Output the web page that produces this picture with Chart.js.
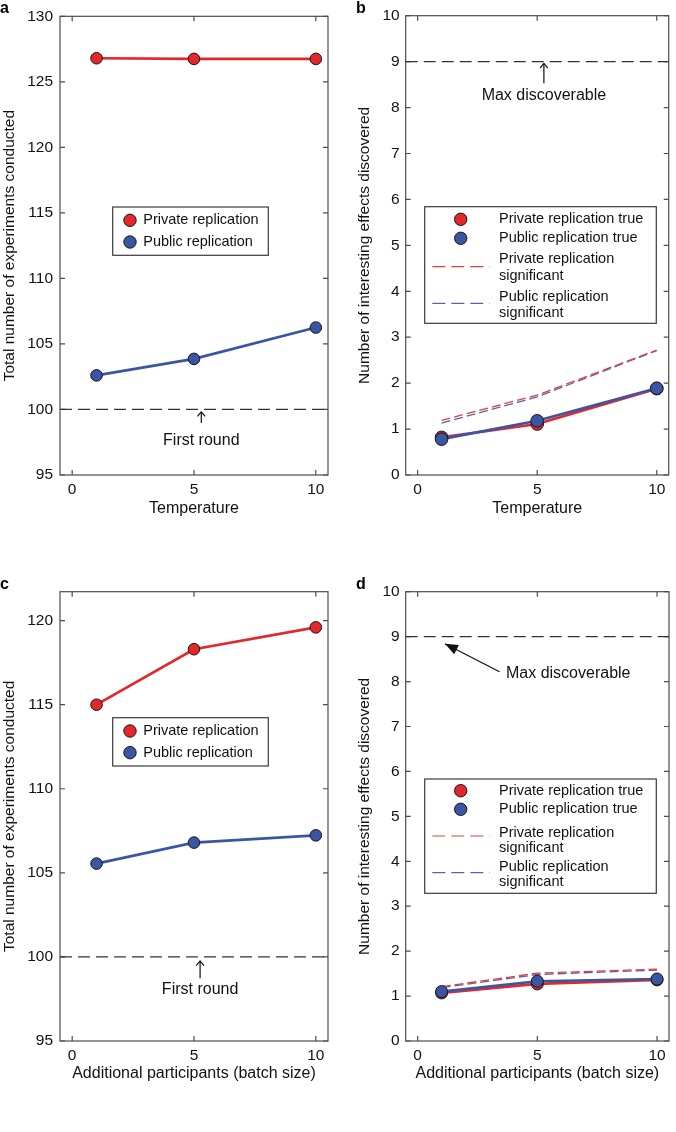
<!DOCTYPE html>
<html>
<head>
<meta charset="utf-8">
<script src="https://cdn.jsdelivr.net/npm/chart.js@4.4.1/dist/chart.umd.min.js"></script>
<style>
  body { margin: 0; background: #fff; width: 676px; height: 1132px; position: relative; overflow: hidden;
         font-family: 'Liberation Sans', Arial, sans-serif; }
  .panel { position: absolute; }
  .tag { position: absolute; font-weight: bold; font-size: 16px; line-height: 1; color: #000; }
</style>
</head>
<body>
<div class="panel" style="left:0;top:0"><canvas id="ca" width="338" height="560"></canvas></div>
<div class="panel" style="left:338px;top:0"><canvas id="cb" width="338" height="560"></canvas></div>
<div class="panel" style="left:0;top:560px"><canvas id="cc" width="338" height="572"></canvas></div>
<div class="panel" style="left:338px;top:560px"><canvas id="cd" width="338" height="572"></canvas></div>
<div class="tag" style="left:0;top:0">a</div>
<div class="tag" style="left:356px;top:0">b</div>
<div class="tag" style="left:0;top:576px">c</div>
<div class="tag" style="left:356px;top:576px">d</div>
<script>
// --- DONNEES ---
const xVals = [1, 5, 10];
const xTicks = [0, 5, 10];
const xMin = -0.5, xMax = 10.5;

// a : temperature / nb experiences
const aPrivate = [126.8, 126.75, 126.75];
const aPublic = [102.6, 103.86, 106.25];
const aYTicks = [95, 100, 105, 110, 115, 120, 125, 130];

// b : temperature / effets decouverts
const bPrivateTrue = [0.82, 1.11, 1.88];
const bPublicTrue = [0.78, 1.18, 1.89];
const bPrivateSig = [1.19, 1.74, 2.72];
const bPublicSig = [1.13, 1.70, 2.71];

// c : taille du batch / nb experiences
const cPrivate = [115.0, 118.3, 119.6];
const cPublic = [105.55, 106.8, 107.23];
const cYTicks = [95, 100, 105, 110, 115, 120];

// d : taille du batch / effets decouverts
const dPrivateTrue = [1.07, 1.27, 1.36];
const dPublicTrue = [1.10, 1.33, 1.38];
const dPrivateSig = [1.21, 1.51, 1.60];
const dPublicSig = [1.19, 1.48, 1.58];

const effectsYTicks = [0, 1, 2, 3, 4, 5, 6, 7, 8, 9, 10];
const firstRound = 100;
const maxDiscoverable = 9;

const RED = '#e2282b', BLUE = '#3b55a5';
const FONT = "'Liberation Sans', Arial, sans-serif";

// --- PLUGINS ---
// cadre facon matlab avec ticks vers l'interieur
const frame = {
  id: 'frame',
  beforeDatasetsDraw(chart) {
    const { ctx, chartArea: a, scales: { x, y } } = chart;
    ctx.save();
    ctx.strokeStyle = '#4d4d4d';
    ctx.lineWidth = 1.2;
    ctx.beginPath();
    x.ticks.forEach(t => {
      const px = x.getPixelForValue(t.value);
      ctx.moveTo(px, a.bottom); ctx.lineTo(px, a.bottom - 5);
      ctx.moveTo(px, a.top); ctx.lineTo(px, a.top + 5);
    });
    y.ticks.forEach(t => {
      const py = y.getPixelForValue(t.value);
      ctx.moveTo(a.left, py); ctx.lineTo(a.left + 5, py);
      ctx.moveTo(a.right, py); ctx.lineTo(a.right - 5, py);
    });
    ctx.stroke();
    ctx.strokeRect(a.left, a.top, a.right - a.left, a.bottom - a.top);
    ctx.restore();
  }
};

// legende encadree dans la zone du graphe
const insetLegend = {
  id: 'insetLegend',
  afterDraw(chart, args, o) {
    if (!o.rows) return;
    const { ctx, chartArea: a } = chart;
    const L = a.left + o.x, T = a.top + o.y;
    ctx.save();
    ctx.fillStyle = '#fff';
    ctx.fillRect(L, T, o.w, o.h);
    ctx.strokeStyle = '#3a3a3a';
    ctx.lineWidth = 1.2;
    ctx.strokeRect(L, T, o.w, o.h);
    o.rows.forEach(r => {
      const ds = chart.data.datasets[r.ds];
      if (r.kind === 'marker') {
        ctx.beginPath();
        ctx.arc(L + o.symX, T + r.y, 6.2, 0, Math.PI * 2);
        ctx.fillStyle = ds.pointBackgroundColor;
        ctx.fill();
        ctx.lineWidth = 1;
        ctx.strokeStyle = ds.pointBorderColor;
        ctx.stroke();
      } else {
        ctx.beginPath();
        ctx.setLineDash([13, 6]);
        ctx.strokeStyle = ds.borderColor;
        ctx.lineWidth = 1.2;
        ctx.moveTo(L + o.lineX0, T + r.symY);
        ctx.lineTo(L + o.lineX1, T + r.symY);
        ctx.stroke();
        ctx.setLineDash([]);
      }
      ctx.fillStyle = '#111';
      ctx.font = '14.5px ' + FONT;
      ctx.textBaseline = 'middle';
      ctx.textAlign = 'left';
      r.text.forEach((line, i) => ctx.fillText(line, L + o.textX, T + r.y + i * o.lh));
    });
    ctx.restore();
  }
};

// fleches + texte (First round / Max discoverable)
const notes = {
  id: 'notes',
  afterDraw(chart, args, o) {
    if (!o.items) return;
    const { ctx, scales: { x, y } } = chart;
    ctx.save();
    o.items.forEach(n => {
      const x1 = x.getPixelForValue(n.from[0]), y1 = y.getPixelForValue(n.from[1]);
      const x2 = x.getPixelForValue(n.to[0]), y2 = y.getPixelForValue(n.to[1]);
      const ang = Math.atan2(y2 - y1, x2 - x1);
      ctx.strokeStyle = '#111';
      ctx.fillStyle = '#111';
      ctx.lineWidth = 1.2;
      ctx.beginPath();
      ctx.moveTo(x1, y1); ctx.lineTo(x2, y2);
      ctx.stroke();
      const hl = n.filled ? 14 : 6, hw = n.filled ? 0.38 : 0.7;
      ctx.beginPath();
      ctx.moveTo(x2 - hl * Math.cos(ang - hw), y2 - hl * Math.sin(ang - hw));
      ctx.lineTo(x2, y2);
      ctx.lineTo(x2 - hl * Math.cos(ang + hw), y2 - hl * Math.sin(ang + hw));
      if (n.filled) { ctx.closePath(); ctx.fill(); } else ctx.stroke();
      ctx.font = '16px ' + FONT;
      ctx.textBaseline = 'middle';
      ctx.textAlign = n.align || 'center';
      ctx.fillText(n.text, x.getPixelForValue(n.at[0]), y.getPixelForValue(n.at[1]));
    });
    ctx.restore();
  }
};

Chart.register(frame, insetLegend, notes);

// --- CONSTRUCTION DES DATASETS ---
const pts = ys => xVals.map((x, i) => ({ x: x, y: ys[i] }));

function solid(label, ys, color, r, order) {
  return {
    label: label, data: pts(ys), borderColor: color, borderWidth: 2.7,
    pointBackgroundColor: color, pointBorderColor: '#1e1414', pointBorderWidth: 1,
    pointRadius: r, order: order
  };
}
function dashed(label, ys, color, order) {
  return {
    label: label, data: pts(ys), borderColor: color, borderWidth: 1.3,
    borderDash: [9, 4], pointRadius: 0, order: order
  };
}
function refLine(v) {
  return {
    label: 'ref', data: [{ x: xMin, y: v }, { x: xMax, y: v }], borderColor: '#333',
    borderWidth: 1.2, borderDash: [12, 6], pointRadius: 0, order: 9
  };
}

function makePanel(id, p) {
  new Chart(document.getElementById(id), {
    type: 'line',
    data: { datasets: p.datasets },
    options: {
      responsive: false,
      animation: false,
      layout: { padding: { left: 0, top: p.top, right: p.right, bottom: 0 } },
      plugins: {
        legend: { display: false },
        tooltip: { enabled: false },
        insetLegend: p.legend,
        notes: { items: p.notes }
      },
      scales: {
        x: {
          type: 'linear', min: xMin, max: xMax,
          afterBuildTicks: s => { s.ticks = xTicks.map(v => ({ value: v })); },
          afterFit: s => { s.height = p.xH; },
          grid: { display: false, drawTicks: false },
          border: { display: false },
          ticks: { padding: 5, color: '#111', font: { family: FONT, size: 15.5 } },
          title: { display: true, text: p.xTitle, color: '#111', font: { family: FONT, size: 16 },
                   padding: { top: 0, bottom: p.xTitlePad } }
        },
        y: {
          type: 'linear', min: p.yMin, max: p.yMax,
          afterBuildTicks: s => { s.ticks = p.yTicks.map(v => ({ value: v })); },
          afterFit: s => { s.width = p.yW; },
          grid: { display: false, drawTicks: false },
          border: { display: false },
          ticks: { padding: p.yPad, color: '#111', font: { family: FONT, size: 15.5 } },
          title: { display: true, text: p.yTitle, color: '#111', font: { family: FONT, size: 15.5 },
                   padding: { top: p.yTitlePad, bottom: 0 } }
        }
      }
    }
  });
}

const legend2 = (y) => ({
  x: 52.7, y: y, w: 155.6, h: 48.3, symX: 17.3, textX: 30.6, lh: 0,
  rows: [
    { kind: 'marker', ds: 0, y: 13.3, text: ['Private replication'] },
    { kind: 'marker', ds: 1, y: 35, text: ['Public replication'] }
  ]
});

// a
makePanel('ca', {
  top: 16, right: 10, xH: 85, yW: 60, yPad: 7, xTitlePad: 42, yTitlePad: 0,
  yMin: 95, yMax: 130, yTicks: aYTicks,
  xTitle: 'Temperature', yTitle: 'Total number of experiments conducted',
  datasets: [solid('Private replication', aPrivate, RED, 5.8, 1), solid('Public replication', aPublic, BLUE, 5.8, 0), refLine(firstRound)],
  legend: legend2(190.7),
  notes: [{ from: [5.3, 98.96], to: [5.3, 99.82], at: [5.3, 97.6], text: 'First round' }]
});

// b
makePanel('cb', {
  top: 15.7, right: 1.3, xH: 85, yW: 67.7, yPad: 6, xTitlePad: 42, yTitlePad: 17.4,
  yMin: 0, yMax: 10, yTicks: effectsYTicks,
  xTitle: 'Temperature', yTitle: 'Number of interesting effects discovered',
  datasets: [
    solid('Private replication true', bPrivateTrue, RED, 6.3, 1),
    solid('Public replication true', bPublicTrue, BLUE, 6.3, 0),
    dashed('Private replication significant', bPrivateSig, '#e2403e', 2),
    dashed('Public replication significant', bPublicSig, '#5861b3', 3),
    refLine(maxDiscoverable)
  ],
  legend: {
    x: 19, y: 191, w: 231.6, h: 116.6, symX: 36, textX: 74.3, lh: 16.7, lineX0: 7.6, lineX1: 65,
    rows: [
      { kind: 'marker', ds: 0, y: 12.6, text: ['Private replication true'] },
      { kind: 'marker', ds: 1, y: 31.6, text: ['Public replication true'] },
      { kind: 'line', ds: 2, y: 52.6, symY: 60, text: ['Private replication', 'significant'] },
      { kind: 'line', ds: 3, y: 90, symY: 96.6, text: ['Public replication', 'significant'] }
    ]
  },
  notes: [{ from: [5.28, 8.53], to: [5.28, 8.96], at: [5.28, 8.26], text: 'Max discoverable' }]
});

// c
makePanel('cc', {
  top: 31.7, right: 10, xH: 91, yW: 60, yPad: 7, xTitlePad: 49, yTitlePad: 0,
  yMin: 95, yMax: 121.72, yTicks: cYTicks,
  xTitle: 'Additional participants (batch size)', yTitle: 'Total number of experiments conducted',
  datasets: [solid('Private replication', cPrivate, RED, 5.8, 1), solid('Public replication', cPublic, BLUE, 5.8, 0), refLine(firstRound)],
  legend: legend2(126),
  notes: [{ from: [5.25, 98.73], to: [5.25, 99.76], at: [5.25, 98.03], text: 'First round' }]
});

// d
makePanel('cd', {
  top: 31.7, right: 1.3, xH: 91, yW: 67.7, yPad: 6, xTitlePad: 49, yTitlePad: 17.4,
  yMin: 0, yMax: 10, yTicks: effectsYTicks,
  xTitle: 'Additional participants (batch size)', yTitle: 'Number of interesting effects discovered',
  datasets: [
    solid('Private replication true', dPrivateTrue, RED, 6, 1),
    solid('Public replication true', dPublicTrue, BLUE, 6, 0),
    dashed('Private replication significant', dPrivateSig, '#e2403e', 2),
    dashed('Public replication significant', dPublicSig, '#5861b3', 3),
    refLine(maxDiscoverable)
  ],
  legend: {
    x: 19, y: 187.3, w: 231.6, h: 114.3, symX: 36, textX: 74.3, lh: 15.6, lineX0: 7.6, lineX1: 65,
    rows: [
      { kind: 'marker', ds: 0, y: 11.7, text: ['Private replication true'] },
      { kind: 'marker', ds: 1, y: 30.3, text: ['Public replication true'] },
      { kind: 'line', ds: 2, y: 53.7, symY: 57, text: ['Private replication', 'significant'] },
      { kind: 'line', ds: 3, y: 87.7, symY: 93.7, text: ['Public replication', 'significant'] }
    ]
  },
  notes: [{ from: [3.42, 8.22], to: [1.14, 8.84], at: [3.69, 8.18], text: 'Max discoverable', align: 'left', filled: true }]
});
</script>
</body>
</html>
